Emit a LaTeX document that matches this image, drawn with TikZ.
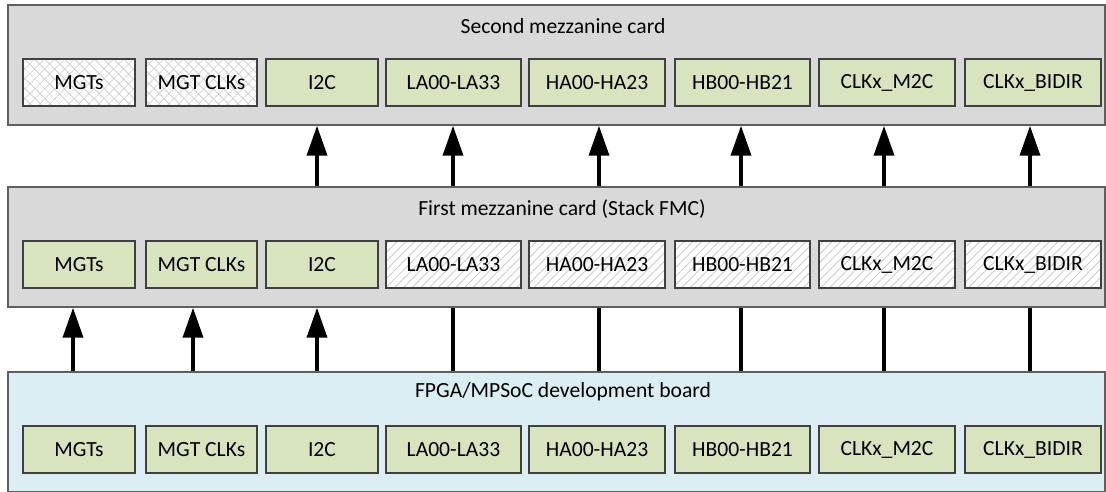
\documentclass[tikz,border=0pt]{standalone}
\usepackage{fontspec}
\setmainfont{Carlito}
\usetikzlibrary{arrows.meta, positioning, patterns.meta}
\definecolor{cardgrey}{HTML}{D9D9D9}
\definecolor{boardblue}{HTML}{DAEEF3}
\definecolor{boxgreen}{HTML}{D7E4BD}
\definecolor{cedge}{HTML}{5F5F5F}
\definecolor{bedge}{HTML}{404040}

\tikzset{
  card/.style={draw=cedge, line width=0.03cm, minimum width=21.94cm, minimum height=2.4cm, inner sep=0pt},
  cardtitle/.style={font=\fontsize{12.3}{14}\selectfont, inner sep=0pt},
  slot/.style={draw=bedge, line width=0.03cm, minimum height=0.94cm, inner sep=0pt, font=\fontsize{12.3}{14}\selectfont},
  greenbox/.style={slot, fill=boxgreen},
  crossbox/.style={slot, preaction={fill=white}, pattern={Hatch[angle=45,distance=4pt,line width=0.4pt]}, pattern color=gray!40},
  hatchbox/.style={slot, preaction={fill=white}, pattern={Lines[angle=45,distance=3.5pt,line width=0.5pt]}, pattern color=gray!40},
  sig/.style={line width=0.075cm, -{Triangle[width=0.4cm,length=0.6cm]}},
  wire/.style={line width=0.075cm},
}

\begin{document}
\begin{tikzpicture}[x=0.02cm, y=-0.02cm]
  \useasboundingbox (0,0) rectangle (1106,491);
  \clip (0,0) rectangle (1106,491);
  \fill[white] (0,0) rectangle (1106,491);

  % cards
  \node[card, fill=cardgrey] (second) at (556.5,65) {};
  \node[card, fill=cardgrey] (first) at (556.5,247) {};
  \node[card, fill=boardblue] (fpga) at (556.5,432) {};
  \node[cardtitle] (secondtitle) at (563,26) {Second mezzanine card};
  \node[cardtitle] (firsttitle) at (562,209) {First mezzanine card (Stack FMC)};
  \node[cardtitle] (fpgatitle) at (563,392) {FPGA/MPSoC development board};

  % connector slots, one column at a time
  \foreach \i/\cx/\w/\lab/\st/\sm in {1/79/2.24/MGTs/crossbox/greenbox,
      2/201.5/2.22/MGT CLKs/crossbox/greenbox,
      3/322/2.24/I2C/greenbox/greenbox,
      4/453.5/2.70/LA00-LA33/greenbox/hatchbox,
      5/597/2.72/HA00-HA23/greenbox/hatchbox,
      6/742.5/2.70/HB00-HB21/greenbox/hatchbox,
      7/887/2.72/CLKx\_M2C/greenbox/hatchbox,
      8/1033/2.72/CLKx\_BIDIR/greenbox/hatchbox}{
    \node[\st, minimum width=\w cm] (s\i) at (\cx,82.5) {\lab};
    \node[\sm, minimum width=\w cm] (f\i) at (\cx,264.5) {\lab};
    \node[greenbox, minimum width=\w cm] (b\i) at (\cx,449.5) {\lab};
  }

  \foreach \i/\ax in {1/73,2/193,3/317,4/453,5/599,6/741,7/884,8/1030}
    \coordinate (a\i) at (\ax,0);

  \foreach \i in {1,2,3}
    \draw[sig] (fpga.north -| a\i) -- (first.south -| a\i);
  \foreach \i in {4,...,8}
    \draw[wire] (fpga.north -| a\i) -- (first.south -| a\i);
  \foreach \i in {3,...,8}
    \draw[sig] (first.north -| a\i) -- (second.south -| a\i);
\end{tikzpicture}
\end{document}
